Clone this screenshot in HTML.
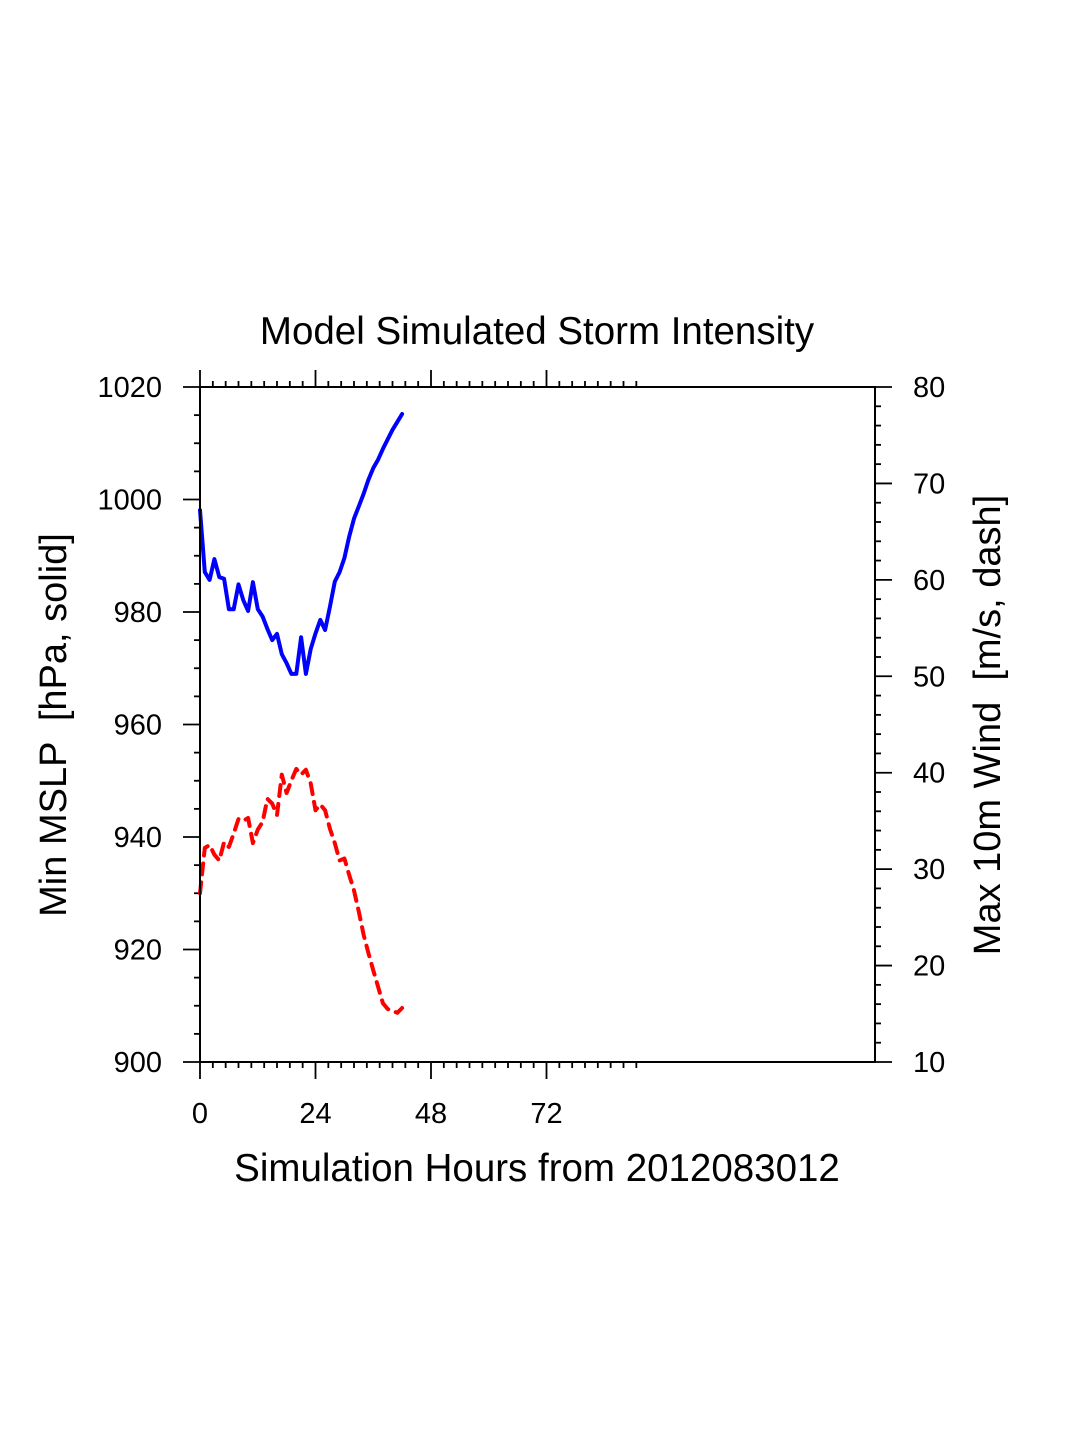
<!DOCTYPE html>
<html><head><meta charset="utf-8"><style>
html,body{margin:0;padding:0;background:#fff;}
svg{display:block;font-family:"Liberation Sans",Arial,sans-serif;}
text{white-space:pre;}
</style></head><body>
<svg id="chart" width="1075" height="1450" viewBox="0 0 1075 1450" xmlns="http://www.w3.org/2000/svg">
<rect width="1075" height="1450" fill="#fff"/>
<text x="537" y="344" font-size="38.5" text-anchor="middle">Model Simulated Storm Intensity</text>
<text x="537" y="1181" font-size="38.5" text-anchor="middle">Simulation Hours from 2012083012</text>
<text transform="translate(66,725) rotate(-90)" font-size="38" text-anchor="middle">Min MSLP  [hPa, solid]</text>
<text transform="translate(1000,725) rotate(-90)" font-size="38" text-anchor="middle">Max 10m Wind  [m/s, dash]</text>
<g id="axes"></g>
<g id="series"></g>
<rect x="200" y="387" width="675" height="675" fill="none" stroke="#000" stroke-width="2"/>
</svg>
<script>
const hours = [0,1,2,3,4,5,6,7,8,9,10,11,12,13,14,15,16,17,18,19,20,21,22,23,24,25,26,27,28,29,30,31,32,33,34,35,36,37,38,39,40,41,42];
const mslp = [998.1,987.1,985.7,989.4,986.2,985.9,980.5,980.5,984.9,982.1,980.2,985.3,980.5,979.2,977.0,975.0,976.1,972.5,970.9,969.0,969.0,975.5,969.0,973.4,976.2,978.6,976.8,980.9,985.4,987.1,989.6,993.4,996.6,998.8,1001.0,1003.5,1005.6,1007.1,1009.0,1010.7,1012.4,1013.8,1015.2];
const wind = [27.5,32.2,32.5,31.5,30.9,32.8,32.3,33.7,35.2,35.0,35.3,32.7,34.1,34.9,37.3,36.8,35.6,39.8,37.9,39.2,40.4,39.8,40.3,38.9,36.1,36.7,36.1,34.2,32.7,30.9,31.1,29.4,27.8,25.6,23.2,21.3,19.5,17.8,16.1,15.5,15.3,15.1,15.6];
const xTicks = [0,24,48,72];
const leftTicks = [900,920,940,960,980,1000,1020];
const rightTicks = [10,20,30,40,50,60,70,80];

const NS="http://www.w3.org/2000/svg";
const X0=200,X1=875,Y0=1062,Y1=387;
const xs = h => X0 + h*(431-200)/48;
const yl = p => Y0 - (p-900)*(Y0-Y1)/120;
const yr = w => Y0 - (w-10)*(Y0-Y1)/70;
const axes=document.getElementById('axes'), ser=document.getElementById('series');
function line(x1,y1,x2,y2,name){
  const l=document.createElementNS(NS,'line');
  l.setAttribute('x1',x1);l.setAttribute('y1',y1);l.setAttribute('x2',x2);l.setAttribute('y2',y2);
  l.setAttribute('stroke','#000');l.setAttribute('stroke-width','1.8');
  
  
  axes.appendChild(l);
}
function text(x,y,s,anchor,name){
  const t=document.createElementNS(NS,'text');
  t.setAttribute('x',x);t.setAttribute('y',y);t.setAttribute('font-size','29');t.setAttribute('text-anchor',anchor);
  t.textContent=s;
  
  
  axes.appendChild(t);
}
const minorStep=24/9;
for(let i=0;i<=34;i++){
  const h=i*minorStep; const x=xs(h);
  const major=(i%9===0);
  const len=major?17:6;
  line(x,Y0,x,Y0+len,'x-tick-bottom');
  line(x,Y1,x,Y1-len,'x-tick-top');
}
xTicks.forEach(v=>text(xs(v),1123,String(v),'middle','x-tick-label'));
for(let p=900;p<=1020;p+=5){
  const major=(p%20===0);
  line(X0,yl(p),X0-(major?17:6),yl(p),'y-tick-left');
}
leftTicks.forEach(v=>text(162,yl(v)+10,String(v),'end','y-tick-label-left'));
for(let w=10;w<=80;w+=2){
  const major=(w%10===0);
  line(X1,yr(w),X1+(major?17:6),yr(w),'y-tick-right');
}
rightTicks.forEach(v=>text(913,yr(v)+10,String(v),'start','y-tick-label-right'));
function poly(vals,fy,color,dash,name){
  const p=document.createElementNS(NS,'polyline');
  p.setAttribute('points',vals.map((v,i)=>xs(hours[i]).toFixed(1)+','+fy(v).toFixed(1)).join(' '));
  p.setAttribute('fill','none');p.setAttribute('stroke',color);p.setAttribute('stroke-width','4');
  p.setAttribute('stroke-linejoin','round');p.setAttribute('stroke-linecap','round');
  if(dash)p.setAttribute('stroke-dasharray',dash);
  
  
  ser.appendChild(p);
}
poly(mslp,yl,'#0000ff',null,'mslp-line');
poly(wind,yr,'#ff0000','11 8','wind-line');
</script>
</body></html>
